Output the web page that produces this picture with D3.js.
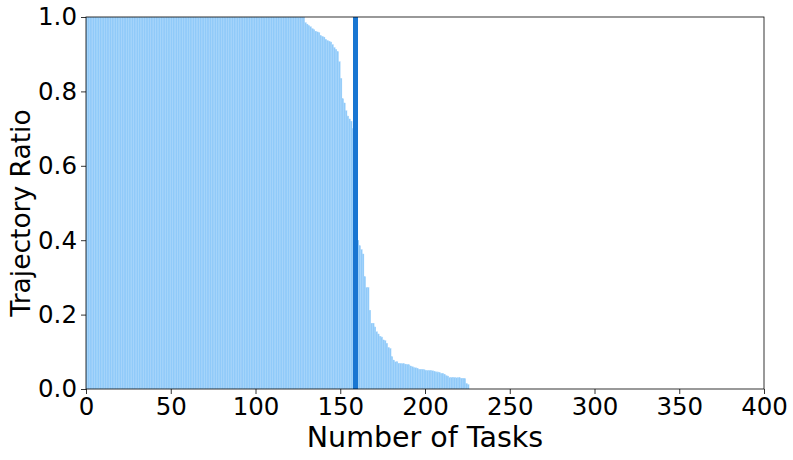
<!DOCTYPE html>
<html>
<head>
<meta charset="utf-8">
<script src="https://cdn.jsdelivr.net/npm/d3@7"></script>
<style>
  body { margin: 0; background: #fff; }
  text { font-family: "DejaVu Sans", sans-serif; fill: #000; }
</style>
</head>
<body>
<script>
// chart values
var topTasks = 129;           // tasks 0..128 sit at ratio 1.0
var tailRatios = [
  0.985, 0.981, 0.977, 0.974, 0.969, 0.966, 0.962, 0.960, 0.958, 0.950,
  0.948, 0.946, 0.940, 0.937, 0.935, 0.933, 0.926, 0.918, 0.913, 0.907,
  0.880, 0.835, 0.780, 0.769, 0.748, 0.734, 0.726, 0.720, 0.700, 0.560,
  0.450, 0.400, 0.385, 0.375, 0.363, 0.302, 0.273, 0.273, 0.212, 0.177,
  0.177, 0.167, 0.154, 0.148, 0.142, 0.140, 0.132, 0.130, 0.123, 0.112,
  0.109, 0.087, 0.078, 0.073, 0.073, 0.069, 0.069, 0.068, 0.068, 0.067,
  0.066, 0.065, 0.062, 0.060, 0.057, 0.057, 0.056, 0.053, 0.053, 0.053,
  0.052, 0.050, 0.050, 0.050, 0.049, 0.049, 0.048, 0.046, 0.046, 0.045,
  0.042, 0.042, 0.040, 0.036, 0.035, 0.031, 0.031, 0.031, 0.031, 0.030,
  0.030, 0.030, 0.029, 0.029, 0.028, 0.015, 0.012
];
var cutTask = 159;            // vertical marker
var xTicks = [0, 50, 100, 150, 200, 250, 300, 350, 400];
var yTicks = [0, 0.2, 0.4, 0.6, 0.8, 1.0];

var ratios = [];
for (var i = 0; i < topTasks; i++) ratios.push(1.0);
ratios = ratios.concat(tailRatios);

var margin = {top: 17, right: 29, bottom: 71, left: 86};
var width = 793 - margin.left - margin.right;
var height = 460 - margin.top - margin.bottom;

var svg = d3.select('body')
  .append('svg')
    .attr('width', 793)
    .attr('height', 460)
  .append('g')
    .attr('transform', 'translate(' + margin.left + ',' + margin.top + ')');

var xScale = d3.scaleLinear().domain([0, 400]).range([0, width]);
var yScale = d3.scaleLinear().domain([0, 1]).range([height, 0]);

svg.append('defs').append('clipPath').attr('id', 'plot')
  .append('rect').attr('width', width).attr('height', height);

var plot = svg.append('g').attr('clip-path', 'url(#plot)');

// bars, one per task
plot.selectAll('.bar')
  .data(ratios)
  .enter().append('rect')
    .attr('class', 'bar')
    .attr('x', function(d, i){ return xScale(i); })
    .attr('width', xScale(1) - xScale(0))
    .attr('y', function(d){ return yScale(d); })
    .attr('height', function(d){ return height - yScale(d); })
    .style('fill', '#90caf9')
    .style('stroke', '#a6d5fb')
    .style('stroke-width', 0.3);

// marker line
plot.append('line')
  .attr('x1', xScale(cutTask)).attr('x2', xScale(cutTask))
  .attr('y1', 0).attr('y2', height)
  .style('stroke', '#1976d2')
  .style('stroke-width', 5);

// axes
var xAxis = d3.axisBottom(xScale).tickValues(xTicks).tickSize(5).tickPadding(4)
  .tickFormat(d3.format('d'));
var yAxis = d3.axisLeft(yScale).tickValues(yTicks).tickSize(5).tickPadding(4)
  .tickFormat(d3.format('.1f'));

var gx = svg.append('g')
  .attr('transform', 'translate(0,' + height + ')')
  .call(xAxis);
var gy = svg.append('g').call(yAxis);

[gx, gy].forEach(function(g){
  g.attr('font-size', null).attr('font-family', null);
  g.select('.domain').remove();
  g.selectAll('line').style('stroke', '#000').style('stroke-width', 0.8);
  g.selectAll('text').style('font-size', '24.5px');
});

// frame
svg.append('rect')
  .attr('width', width).attr('height', height)
  .style('fill', 'none')
  .style('stroke', '#000')
  .style('stroke-width', 0.8);

// labels
svg.append('text')
  .attr('x', 461 - margin.left - 36)
  .attr('y', height + 57.5)
  .attr('text-anchor', 'middle')
  .style('font-size', '28.5px')
  .text('Number of Tasks');

svg.append('text')
  .attr('transform', 'rotate(-90)')
  .attr('x', -(213 - margin.top))
  .attr('y', -56)
  .attr('text-anchor', 'middle')
  .style('font-size', '26.5px')
  .text('Trajectory Ratio');
</script>
</body>
</html>
